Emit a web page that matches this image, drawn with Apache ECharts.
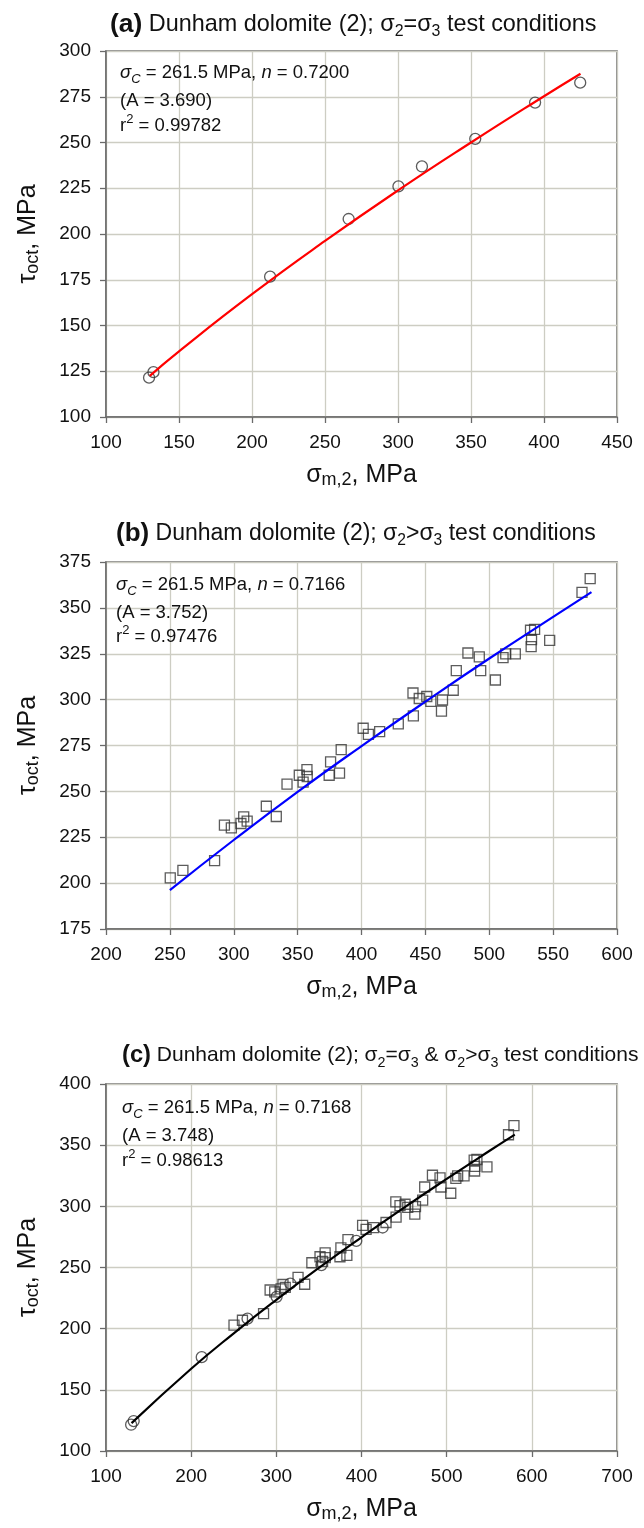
<!DOCTYPE html>
<html>
<head>
<meta charset="utf-8">
<script src="https://cdn.jsdelivr.net/npm/echarts@6/dist/echarts.min.js"></script>
<style>html,body{margin:0;padding:0;background:#fff}#c{width:644px;height:1528px}</style>
</head>
<body>
<div id="c"></div>
<script>
// ---- data ----
// (a) sigma2 = sigma3 tests (circles)
const aX = [129.5, 132.5, 212.4, 266.2, 300.3, 316.4, 352.9, 393.9, 424.8];
const aY = [121.5, 124.5, 176.7, 208.2, 226.0, 236.9, 252.0, 271.8, 282.7];
// (b) sigma2 > sigma3 tests (squares)
const bX = [250.3, 260.2, 285.0, 292.7, 298.1, 305.6, 307.8, 310.5, 325.5, 333.3,
            341.7, 351.3, 354.3, 357.3, 357.5, 374.7, 375.8, 382.8, 384.1, 401.3,
            405.4, 414.2, 428.8, 440.3, 440.6, 445.2, 451.1, 454.3, 463.4, 462.6,
            471.8, 474.2, 483.3, 492.2, 493.3, 504.8, 510.8, 512.9, 520.4, 532.3,
            535.5, 533.1, 532.8, 547.3, 572.6, 579.0];
const bY = [202.9, 206.9, 212.3, 231.6, 230.1, 232.5, 236.1, 233.8, 241.9, 236.3,
            253.9, 258.8, 255.0, 261.9, 258.1, 258.8, 266.1, 259.9, 272.8, 284.4,
            281.1, 282.6, 286.8, 303.6, 291.1, 300.6, 301.7, 299.1, 299.8, 293.7,
            305.1, 315.8, 325.4, 323.3, 315.8, 310.7, 322.9, 324.9, 324.9, 337.8,
            338.3, 332.7, 328.9, 332.3, 358.5, 365.9];
// fitted curves
const fitAX = [130, 150, 200, 250, 300, 350, 400, 425];
const fitAY = [122.5, 135.9, 167.1, 196.2, 223.8, 250.0, 275.3, 287.6];
const fitBX = [250, 300, 350, 400, 450, 500, 550, 580];
const fitBY = [196.2, 223.5, 249.7, 274.7, 298.9, 322.4, 345.1, 358.6];
const fitCX = [130, 200, 250, 300, 350, 400, 450, 500, 550, 580];
const fitCY = [122.8, 167.2, 196.2, 223.6, 249.7, 274.7, 299.0, 322.4, 345.2, 358.6];
// axes
const axA = {xmin: 100, xmax: 450, xint: 50, ymin: 100, ymax: 300, yint: 25};
const axB = {xmin: 200, xmax: 600, xint: 50, ymin: 175, ymax: 375, yint: 25};
const axC = {xmin: 100, xmax: 700, xint: 100, ymin: 100, ymax: 400, yint: 50};
// texts
const titles = [
  '{b|(a)}{t| Dunham dolomite (2); σ}{s|2}{t|=σ}{s|3}{t| test conditions}',
  '{b|(b)}{t| Dunham dolomite (2); σ}{s|2}{t|>σ}{s|3}{t| test conditions}',
  '{b|(c)}{t| Dunham dolomite (2); σ}{s|2}{t|=σ}{s|3}{t| & σ}{s|2}{t|>σ}{s|3}{t| test conditions}'
];
const notes = [
  ['{i|σ}{si|C}{t| = 261.5 MPa, }{i|n}{t| = 0.7200}', '{t|(A = 3.690)}', '{t|r}{sp|2}{t| = 0.99782}'],
  ['{i|σ}{si|C}{t| = 261.5 MPa, }{i|n}{t| = 0.7166}', '{t|(A = 3.752)}', '{t|r}{sp|2}{t| = 0.97476}'],
  ['{i|σ}{si|C}{t| = 261.5 MPa, }{i|n}{t| = 0.7168}', '{t|(A = 3.748)}', '{t|r}{sp|2}{t| = 0.98613}']
];
const xName = '{t|σ}{s|m,2}{t|, MPa}';
const yName = '{t|τ}{s|oct}{t|, MPa}';

// ---- layout ----
const FF = 'Liberation Sans, Arial, sans-serif';
const gridsPos = [
  {left: 106, top: 51, width: 511, height: 366},
  {left: 106, top: 562, width: 511, height: 367},
  {left: 106, top: 1084, width: 511, height: 367}
];
const titlePos = [{left: 110, top: 10, fs: 23.4}, {left: 116, top: 519, fs: 23}, {left: 122, top: 1040, fs: 21}];
const notePos = [
  {left: 120, ys: [73, 101, 126]},
  {left: 116, ys: [585, 613, 637]},
  {left: 122, ys: [1108, 1136, 1161]}
];
const axesDef = [axA, axB, axC];

const N = 'normal';
function richTitle(fs) {
  return {
    b: {fontFamily: FF, fontSize: fs * 1.13, fontWeight: 'bold', color: '#111', lineHeight: 30},
    t: {fontFamily: FF, fontSize: fs, fontWeight: N, color: '#111', lineHeight: 30},
    s: {fontFamily: FF, fontSize: fs * 0.68, fontWeight: N, color: '#111', lineHeight: 16, verticalAlign: 'bottom'}
  };
}
const richNote = {
  t: {fontFamily: FF, fontSize: 18.5, fontWeight: N, color: '#111', lineHeight: 26},
  i: {fontFamily: FF, fontSize: 18.5, fontWeight: N, fontStyle: 'italic', color: '#111', lineHeight: 26},
  si: {fontFamily: FF, fontSize: 13, fontWeight: N, fontStyle: 'italic', color: '#111', lineHeight: 13, verticalAlign: 'bottom'},
  sp: {fontFamily: FF, fontSize: 13, fontWeight: N, color: '#111', lineHeight: 13, verticalAlign: 'top'}
};
const richAxis = {
  t: {fontFamily: FF, fontSize: 25, fontWeight: N, color: '#111', lineHeight: 28},
  s: {fontFamily: FF, fontSize: 18, fontWeight: N, color: '#111', lineHeight: 17, verticalAlign: 'bottom'}
};

const title = [];
titles.forEach((t, k) => {
  title.push({text: t, left: titlePos[k].left, top: titlePos[k].top, padding: 0,
    textStyle: {fontWeight: N, rich: richTitle(titlePos[k].fs)}});
  notes[k].forEach((n, j) => {
    title.push({text: n, left: notePos[k].left, top: notePos[k].ys[j] - 13, padding: 0,
      textStyle: {fontWeight: N, rich: richNote}});
  });
});

const gridColor = '#cdcdc3';
const frameColor = '#6a6a6a';
const grid = gridsPos.map(g => Object.assign({show: true, borderColor: frameColor, borderWidth: 1.5,
  backgroundColor: 'transparent', containLabel: false}, g));

const xAxis = axesDef.map((a, k) => ({
  type: 'value', gridIndex: k, min: a.xmin, max: a.xmax, interval: a.xint,
  name: xName, nameLocation: 'middle', nameGap: 44,
  nameTextStyle: {fontWeight: N, rich: richAxis},
  axisLine: {show: true, lineStyle: {color: frameColor, width: 1.5}},
  axisTick: {show: true, inside: false, length: 6, lineStyle: {color: frameColor, width: 1.3}},
  axisLabel: {fontFamily: FF, fontSize: 19, fontWeight: N, color: '#111', margin: 16, showMinLabel: true, showMaxLabel: true},
  splitLine: {show: true, lineStyle: {color: gridColor, width: 1.3}}
}));
const yAxis = axesDef.map((a, k) => ({
  type: 'value', gridIndex: k, min: a.ymin, max: a.ymax, interval: a.yint,
  name: yName, nameLocation: 'middle', nameGap: 64, nameRotate: 90,
  nameTextStyle: {fontWeight: N, rich: richAxis},
  axisLine: {show: true, lineStyle: {color: frameColor, width: 1.5}},
  axisTick: {show: true, inside: false, length: 6, lineStyle: {color: frameColor, width: 1.3}},
  axisLabel: {fontFamily: FF, fontSize: 19, fontWeight: N, color: '#111', margin: 15, showMinLabel: true, showMaxLabel: true},
  splitLine: {show: true, lineStyle: {color: gridColor, width: 1.3}}
}));

const zip = (xs, ys) => xs.map((x, i) => [x, ys[i]]);
const markerStyle = {color: 'rgba(255,255,255,0)', borderColor: '#333', borderWidth: 1.3};
function scatter(k, xs, ys, sym, size) {
  return {type: 'scatter', xAxisIndex: k, yAxisIndex: k, data: zip(xs, ys),
    symbol: sym, symbolSize: size, itemStyle: markerStyle, z: 3, silent: true};
}
function fit(k, xs, ys, color) {
  return {type: 'line', xAxisIndex: k, yAxisIndex: k, data: zip(xs, ys), smooth: true,
    showSymbol: false, symbol: 'none', lineStyle: {color: color, width: 2.2}, z: 4, silent: true};
}

const series = [
  scatter(0, aX, aY, 'circle', 11), fit(0, fitAX, fitAY, '#ff0000'),
  scatter(1, bX, bY, 'rect', 10), fit(1, fitBX, fitBY, '#0000ff'),
  scatter(2, aX, aY, 'circle', 11), scatter(2, bX, bY, 'rect', 10), fit(2, fitCX, fitCY, '#000000')
];

const chart = echarts.init(document.getElementById('c'), null, {renderer: 'canvas'});
chart.setOption({animation: false, backgroundColor: '#fff', title, grid, xAxis, yAxis, series});
</script>
</body>
</html>
